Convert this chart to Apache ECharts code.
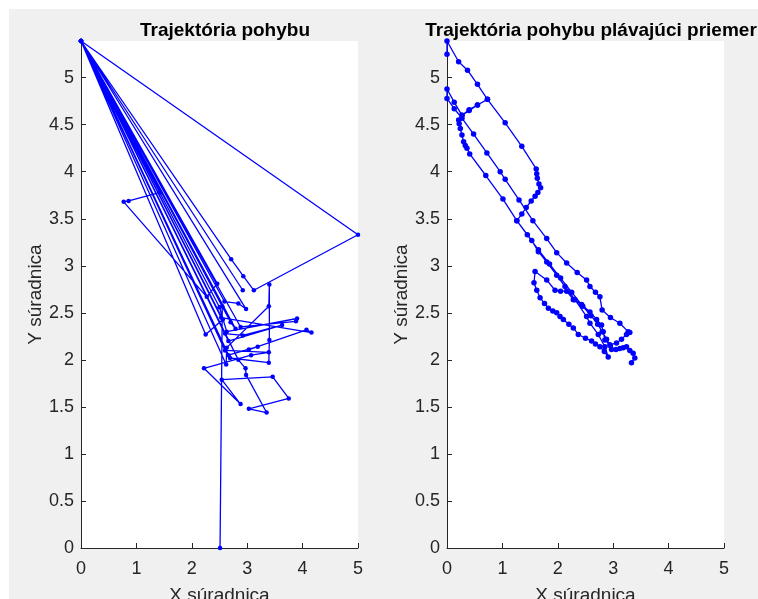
<!DOCTYPE html>
<html>
<head>
<meta charset="utf-8">
<title>Trajektória pohybu</title>
<script src="https://cdn.jsdelivr.net/npm/echarts@6/dist/echarts.min.js"></script>
<style>
  html, body { margin: 0; padding: 0; background: #fff; }
  #chart { width: 758px; height: 599px; }
</style>
</head>
<body>
<div id="chart"></div>
<script>
// raw trajectory (left plot)
const rawX = [0.00, 5.00, 3.12, 2.93, 2.71, 0.00, 2.92, 0.00, 1.43, 0.86, 0.77, 2.27, 2.46, 0.00, 2.59, 2.84, 2.98,
    0.00, 2.25, 2.56, 0.00, 2.50, 2.63, 3.90, 3.88, 2.88, 0.00, 2.62, 2.63, 3.39, 3.40, 3.40, 3.39, 2.69, 0.00,
    2.84, 2.97, 2.98, 3.35, 3.03, 3.75, 3.46, 2.54, 2.88, 2.22, 3.07, 3.39, 2.60, 0.00, 2.66, 3.63, 2.92, 2.60,
    0.00, 2.53, 4.16, 4.07, 3.03, 3.19, 2.66, 0.00, 2.79, 2.70, 0.00, 2.55, 2.51];
const rawY = [5.39, 3.33, 2.74, 2.89, 3.07, 5.39, 2.74, 5.39, 3.78, 3.69, 3.68, 2.67, 2.81, 5.39, 2.62, 2.60, 2.54,
    5.39, 2.27, 2.43, 5.39, 2.56, 2.30, 2.44, 2.41, 2.35, 5.39, 1.95, 2.13, 2.57, 2.80, 2.21, 1.97, 2.02, 5.39,
    2.00, 1.91, 1.84, 1.44, 1.48, 1.59, 1.82, 1.79, 1.53, 1.91, 2.05, 2.08, 2.10, 5.39, 2.20, 2.37, 2.26, 2.28,
    5.39, 2.45, 2.29, 2.32, 2.11, 2.14, 2.05, 5.39, 2.33, 2.40, 5.39, 2.57, 0.00];

// moving average trajectory (right plot)
const avgX = [0.00, 0.00, 0.21, 0.37, 0.55, 0.73, 0.55, 0.40, 0.27, 0.13, 0.00, 0.00,
    0.13, 0.27, 0.48, 0.72, 0.96, 1.05, 1.30, 1.55, 1.80, 1.98, 2.16, 2.35, 2.52, 2.58, 2.68, 2.76, 2.80, 2.95, 3.12, 3.27, 3.30,
    3.24, 3.15, 3.06, 2.94, 2.85, 2.82, 2.79, 2.70, 2.58, 2.43, 2.28, 2.16, 2.05, 1.95, 1.80, 1.59, 1.57, 1.62, 1.68,
    1.76, 1.83, 1.91, 1.98, 2.04, 2.10, 2.20, 2.28, 2.37, 2.50, 2.61, 2.68, 2.76, 2.84, 2.91,
    2.85, 2.73, 2.58, 2.52, 2.31, 2.13, 1.98, 1.80, 1.65, 1.53, 1.26, 1.01, 0.70, 0.41, 0.36, 0.33, 0.30, 0.27, 0.24,
    0.22, 0.21, 0.27, 0.40, 0.55, 0.73, 1.05, 1.35, 1.61, 1.62, 1.63, 1.66, 1.69, 1.64, 1.59, 1.52, 1.43, 1.35, 1.26,
    1.45, 1.65, 1.85, 2.05, 2.25, 2.45, 2.60, 2.72, 2.80, 2.88, 2.95, 2.97, 3.05, 3.12, 3.18, 3.24, 3.30, 3.36, 3.39, 3.33];
const avgY = [5.25, 5.39, 5.17, 5.08, 4.93, 4.77, 4.71, 4.66, 4.60, 4.74, 4.88, 4.78,
    4.67, 4.57, 4.40, 4.20, 4.00, 3.92, 3.70, 3.48, 3.29, 3.14, 3.03, 2.93, 2.85, 2.78, 2.72, 2.67, 2.53, 2.45, 2.39, 2.30, 2.29,
    2.27, 2.22, 2.18, 2.16, 2.21, 2.30, 2.37, 2.43, 2.51, 2.59, 2.64, 2.73, 2.73, 2.74, 2.85, 2.94, 2.82, 2.74, 2.66,
    2.60, 2.55, 2.52, 2.50, 2.46, 2.43, 2.38, 2.34, 2.27, 2.23, 2.20, 2.17, 2.14, 2.09, 2.03,
    2.14, 2.27, 2.39, 2.46, 2.64, 2.78, 2.90, 3.04, 3.15, 3.27, 3.48, 3.71, 3.96, 4.19, 4.25, 4.28, 4.32, 4.39, 4.46,
    4.51, 4.55, 4.60, 4.65, 4.71, 4.77, 4.52, 4.27, 4.03, 3.98, 3.93, 3.87, 3.83, 3.78, 3.74, 3.69, 3.62, 3.55, 3.48,
    3.33, 3.17, 3.02, 2.87, 2.72, 2.57, 2.47, 2.38, 2.30, 2.22, 2.15, 2.11, 2.11, 2.12, 2.13, 2.14, 2.10, 2.07, 2.02, 1.97];

const xTicks = [0, 1, 2, 3, 4, 5];
const yTicks = [0, 0.5, 1, 1.5, 2, 2.5, 3, 3.5, 4, 4.5, 5];

const titles = ['Trajektória pohybu', 'Trajektória pohybu plávajúci priemer'];
const xName = 'X súradnica';
const yName = 'Y súradnica';

const FONT = '"Liberation Sans", Arial, Helvetica, sans-serif';
const AX = '#262626';

const chart = echarts.init(document.getElementById('chart'));

function zip(xs, ys) {
    return xs.map((x, i) => [x, ys[i]]);
}

function xAxisFor(idx) {
    return {
        type: 'value', gridIndex: idx, min: 0, max: 5, interval: 1,
        name: xName, nameLocation: 'middle', nameGap: 38,
        nameTextStyle: { color: AX, fontSize: 19, fontFamily: FONT },
        axisLine: { show: true, onZero: false, lineStyle: { color: AX, width: 1 } },
        axisTick: { show: true, inside: true, length: 5, lineStyle: { color: AX }, customValues: xTicks },
        axisLabel: { color: AX, fontSize: 18, fontFamily: FONT, margin: 12, customValues: xTicks },
        splitLine: { show: false }
    };
}

function yAxisFor(idx) {
    return {
        type: 'value', gridIndex: idx, min: 0, max: 5.39, interval: 0.5,
        name: yName, nameLocation: 'middle', nameGap: 36, nameRotate: 90,
        nameTextStyle: { color: AX, fontSize: 19, fontFamily: FONT },
        axisLine: { show: true, onZero: false, lineStyle: { color: AX, width: 1 } },
        axisTick: { show: true, inside: true, length: 5, lineStyle: { color: AX }, customValues: yTicks },
        axisLabel: { color: AX, fontSize: 18, fontFamily: FONT, margin: 7, customValues: yTicks },
        splitLine: { show: false }
    };
}

function lineSeries(idx, data, size) {
    return {
        type: 'line', xAxisIndex: idx, yAxisIndex: idx, data: data,
        symbol: 'circle', symbolSize: size, showSymbol: true,
        lineStyle: { color: '#0000ff', width: 1.3 },
        itemStyle: { color: '#0000ff' },
        emphasis: { disabled: true },
        z: 3
    };
}

chart.setOption({
    animation: false,
    backgroundColor: '#ffffff',
    graphic: [{
        type: 'rect', left: 9, top: 9, z: -10,
        shape: { width: 749, height: 590 },
        style: { fill: '#f0f0f0' }
    }],
    title: [
        { text: titles[0], left: 220, top: 15, textAlign: 'center',
          textStyle: { fontSize: 19, fontWeight: 'bold', color: '#000', fontFamily: FONT, lineHeight: 22 } },
        { text: titles[1], left: 586, top: 15, textAlign: 'center',
          textStyle: { fontSize: 19, fontWeight: 'bold', color: '#000', fontFamily: FONT, lineHeight: 22 } }
    ],
    grid: [
        { left: 81, top: 41, width: 277, height: 507, show: true, backgroundColor: '#ffffff', borderWidth: 0,
          outerBoundsMode: 'none', containLabel: false },
        { left: 447, top: 41, width: 277, height: 507, show: true, backgroundColor: '#ffffff', borderWidth: 0,
          outerBoundsMode: 'none', containLabel: false }
    ],
    xAxis: [xAxisFor(0), xAxisFor(1)],
    yAxis: [yAxisFor(0), yAxisFor(1)],
    series: [lineSeries(0, zip(rawX, rawY), 4.5), lineSeries(1, zip(avgX, avgY), 5.5)]
});
</script>
</body>
</html>
